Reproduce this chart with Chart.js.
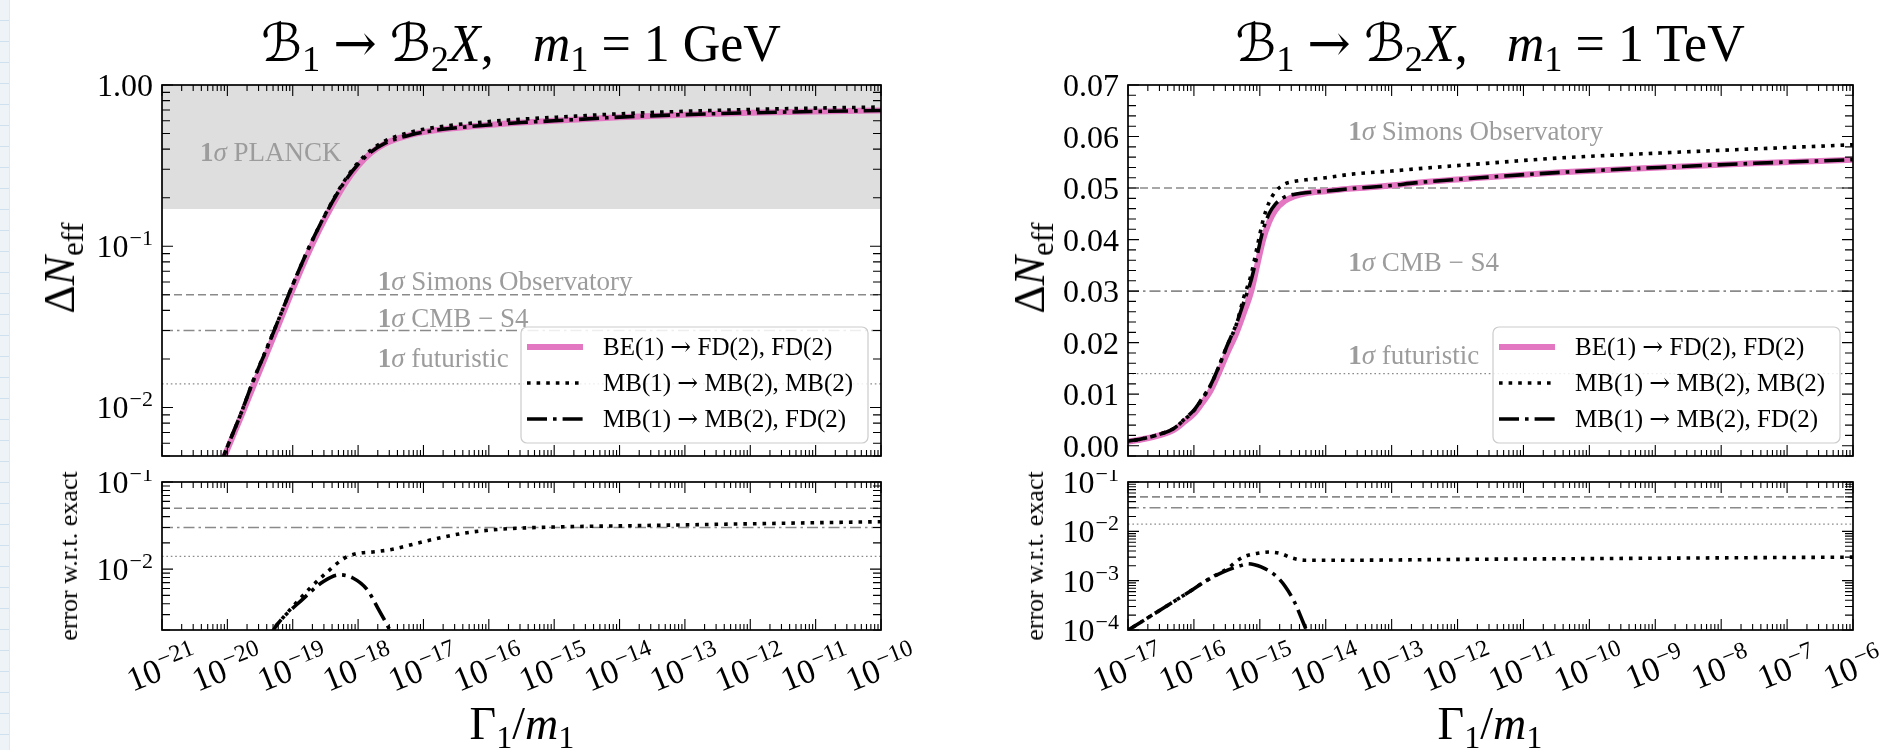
<!DOCTYPE html>
<html lang="en">
<head>
<meta charset="UTF-8" />
<title>Delta N_eff vs Gamma_1/m_1</title>
<script src="https://cdn.jsdelivr.net/npm/chart.js@4.4.1/dist/chart.umd.min.js"></script>
<style>
  body {
    margin: 0;
    width: 1885px;
    height: 750px;
    position: relative;
    overflow: hidden;
    background: #fff;
    font-family: 'Liberation Serif', 'DejaVu Serif', serif;
    color: #000;
  }
  canvas { position: absolute; }
  .strip {
    position: absolute; left: 0; top: 0; width: 9px; height: 750px;
    background: repeating-linear-gradient(#eef3f7 0 20px, #cfe0ef 20px 21px);
    border-right: 1px solid #e2e8ee;
  }
  .lbl { position: absolute; white-space: nowrap; line-height: 1; }
  .title { font-size: 52px; top: 17px; transform: translateX(-50%); }
  .ytitle { font-size: 44px; transform: translate(-50%, -50%) rotate(-90deg); }
  .etitle { font-size: 26px; transform: translate(-50%, -50%) rotate(-90deg); }
  .xtitle { font-size: 46px; transform: translate(-50%, -50%); }
  sub { font-size: 0.7em; vertical-align: -0.28em; line-height: 0; }
  .cal { font-family: 'DejaVu Serif', 'DejaVu Sans', serif; font-style: italic; }
  .arr { font-family: 'DejaVu Serif', serif; }
</style>
</head>
<body>
  <div class="strip"></div>

  <canvas id="gevTop" width="940" height="470" style="left:0;top:0"></canvas>
  <canvas id="gevErr" width="940" height="280" style="left:0;top:470px"></canvas>
  <canvas id="tevTop" width="945" height="470" style="left:940px;top:0"></canvas>
  <canvas id="tevErr" width="945" height="280" style="left:940px;top:470px"></canvas>

  <div class="lbl title" style="left:521px"><span class="cal">ℬ</span><sub>1</sub> <span class="arr">→</span> <span class="cal">ℬ</span><sub>2</sub><i>X</i>,&ensp; <i>m</i><sub>1</sub> = 1 GeV</div>
  <div class="lbl title" style="left:1490px"><span class="cal">ℬ</span><sub>1</sub> <span class="arr">→</span> <span class="cal">ℬ</span><sub>2</sub><i>X</i>,&ensp; <i>m</i><sub>1</sub> = 1 TeV</div>

  <div class="lbl ytitle" style="left:60px;top:268px">Δ<i>N</i><sub>eff</sub></div>
  <div class="lbl ytitle" style="left:1030px;top:268px">Δ<i>N</i><sub>eff</sub></div>
  <div class="lbl etitle" style="left:69px;top:556px">error w.r.t. exact</div>
  <div class="lbl etitle" style="left:1035px;top:556px">error w.r.t. exact</div>
  <div class="lbl xtitle" style="left:522px;top:724px">Γ<sub>1</sub>/<i>m</i><sub>1</sub></div>
  <div class="lbl xtitle" style="left:1490px;top:724px">Γ<sub>1</sub>/<i>m</i><sub>1</sub></div>

  <script>
    // experimental sensitivities (1 sigma)
    const refSimons = 0.05;
    const refS4 = 0.03;
    const refFuture = 0.014;
    const planckLow = 0.17;

    const seriesNames = ['BE(1) → FD(2), FD(2)', 'MB(1) → MB(2), MB(2)', 'MB(1) → MB(2), FD(2)'];

    // m1 = 1 GeV, x given as log10(Gamma1/m1)
    const gevLogX = [-20.15, -20.0, -19.8, -19.6, -19.4, -19.2, -19.0, -18.8, -18.6, -18.4, -18.2, -18.0, -17.8,
      -17.6, -17.4, -17.2, -17.0, -16.6, -16.0, -15.5, -15.0, -14.0, -13.0, -12.0, -11.0, -10.0];
    const gevBE = [0.0039, 0.0055, 0.0086, 0.0136, 0.0215, 0.034, 0.054, 0.084, 0.125, 0.178, 0.245, 0.315, 0.38,
      0.43, 0.465, 0.49, 0.51, 0.537, 0.565, 0.585, 0.60, 0.632, 0.655, 0.672, 0.685, 0.695];
    const gevMBMB = [0.0040, 0.0057, 0.0090, 0.0148, 0.0232, 0.0365, 0.0577, 0.089, 0.132, 0.188, 0.258, 0.330, 0.396,
      0.447, 0.483, 0.510, 0.531, 0.561, 0.593, 0.614, 0.630, 0.663, 0.687, 0.705, 0.719, 0.730];
    const gevMBFD = [0.0040, 0.0057, 0.0090, 0.0148, 0.0230, 0.0365, 0.0577, 0.0889, 0.1316, 0.1863, 0.2533, 0.3223, 0.3847,
      0.4324, 0.465, 0.49, 0.51, 0.537, 0.565, 0.585, 0.60, 0.632, 0.655, 0.672, 0.685, 0.695];

    const gevErrMBMBLogX = [-19.35, -19.24, -18.96, -18.74, -18.47, -18.22, -18.03, -17.75, -17.49, -16.94, -16.39,
      -15.85, -15.02, -13.93, -12.57, -11.3, -10.0];
    const gevErrMBMB = [0.0018, 0.0023, 0.0040, 0.0060, 0.0093, 0.0132, 0.0150, 0.0158, 0.0168, 0.0212, 0.0258,
      0.0286, 0.0304, 0.0314, 0.0326, 0.0338, 0.035];
    const gevErrMBFDLogX = [-19.35, -19.24, -18.85, -18.53, -18.28, -18.08, -17.86, -17.7, -17.53, -17.45];
    const gevErrMBFD = [0.0017, 0.0023, 0.0045, 0.0072, 0.0086, 0.0079, 0.0058, 0.0036, 0.0021, 0.0016];

    // m1 = 1 TeV
    const tevLogX = [-17.05, -16.8, -16.5, -16.3, -16.14, -16.0, -15.89, -15.75, -15.63, -15.5, -15.36, -15.25, -15.13,
      -15.04, -14.95, -14.86, -14.77, -14.62, -14.47, -14.3, -14.0, -13.6, -13.0, -12.65, -11.66, -10.5, -8.93, -7.5, -6.0];
    const tevBE = [0.0007, 0.0012, 0.0021, 0.0031, 0.0047, 0.0062, 0.008, 0.0106, 0.0139, 0.0178, 0.0217, 0.0255, 0.030,
      0.035, 0.040, 0.0434, 0.0456, 0.0475, 0.0484, 0.049, 0.0494, 0.0499, 0.0505, 0.051, 0.052, 0.053, 0.054, 0.0548, 0.0555];
    const tevMBMB = [0.0007, 0.0013, 0.0023, 0.0034, 0.0051, 0.0068, 0.0088, 0.0116, 0.0151, 0.0193, 0.0234, 0.0285, 0.0333,
      0.0386, 0.0438, 0.0472, 0.0492, 0.0508, 0.0513, 0.0516, 0.052, 0.0527, 0.0533, 0.0537, 0.0547, 0.0558, 0.0568, 0.0576, 0.0584];
    const tevMBFD = [0.0008, 0.0013, 0.0023, 0.0034, 0.0052, 0.0069, 0.0089, 0.0117, 0.0151, 0.0193, 0.0235, 0.0276, 0.0322,
      0.037, 0.0419, 0.045, 0.0468, 0.0483, 0.0488, 0.0491, 0.0494, 0.0499, 0.0505, 0.051, 0.052, 0.053, 0.054, 0.0548, 0.0555];

    const tevErrMBMBLogX = [-17.05, -16.54, -16.14, -15.74, -15.48, -15.35, -15.23, -15.03, -14.85, -14.67, -14.52,
      -14.32, -13.6, -12.0, -10.0, -8.0, -6.0];
    const tevErrMBMB = [0.00009, 0.00024, 0.00052, 0.00115, 0.0018, 0.0025, 0.0031, 0.0036, 0.0038, 0.0035, 0.0029,
      0.0026, 0.0026, 0.0027, 0.0028, 0.0029, 0.003];
    const tevErrMBFDLogX = [-17.05, -16.54, -16.14, -15.74, -15.48, -15.3, -15.18, -15.08, -14.98, -14.77, -14.62,
      -14.47, -14.34, -14.28];
    const tevErrMBFD = [0.00009, 0.00024, 0.00052, 0.00113, 0.00165, 0.002, 0.0022, 0.0021, 0.0019, 0.0013, 0.00078,
      0.00036, 0.00014, 0.00009];

    // ticks
    const gevXTicks = [-21, -20, -19, -18, -17, -16, -15, -14, -13, -12, -11, -10];
    const tevXTicks = [-17, -16, -15, -14, -13, -12, -11, -10, -9, -8, -7, -6];
    const gevYTicks = [1, 0.1, 0.01];
    const gevYLabels = ['1.00', '10^−1', '10^−2'];
    const gevErrYTicks = [0.1, 0.01];
    const gevErrYLabels = ['10^−1', '10^−2'];
    const tevYTicks = [0, 0.01, 0.02, 0.03, 0.04, 0.05, 0.06, 0.07];
    const tevYLabels = ['0.00', '0.01', '0.02', '0.03', '0.04', '0.05', '0.06', '0.07'];
    const tevErrYTicks = [0.1, 0.01, 0.001, 0.0001];
    const tevErrYLabels = ['10^−1', '10^−2', '10^−3', '10^−4'];

    const SERIF = '"Liberation Serif", "DejaVu Serif", serif';
    const TICK_FONT = '32px ' + SERIF;
    const EXP_FONT = '22px ' + SERIF;
    const XTICK_FONT = '34px ' + SERIF;
    const XEXP_FONT = '24px ' + SERIF;
    const LEGEND_FONT = '25px ' + SERIF;
    const ARROW_FONT = '25px "DejaVu Serif", serif';
    const NOTE_SIZE = 27;
    const GRAY = '#8a8a8a';
    const NOTE_COLOR = '#9c9c9c';

    const STYLE = {
      be: { borderColor: '#e377c2', borderWidth: 6, borderDash: [] },
      mbmb: { borderColor: '#000', borderWidth: 3.6, borderDash: [3.6, 6] },
      mbfd: { borderColor: '#000', borderWidth: 3.6, borderDash: [20, 6, 3.6, 6] }
    };

    const pts = (lx, ys) => lx.map((e, i) => ({ x: Math.pow(10, e), y: ys[i] }));

    function curve(i, key, lx, ys, order) {
      return Object.assign({
        label: seriesNames[i], inLegend: true, data: pts(lx, ys),
        pointRadius: 0, fill: false, cubicInterpolationMode: 'monotone', order: order, clip: 0
      }, STYLE[key]);
    }

    function refLine(v, dash, w, xr) {
      return {
        data: [{ x: xr[0], y: v }, { x: xr[1], y: v }], borderColor: GRAY, borderWidth: w,
        borderDash: dash, pointRadius: 0, fill: false, order: 5, clip: 0
      };
    }

    function refLines(xr) {
      return [
        refLine(refSimons, [8, 4], 1.6, xr),
        refLine(refS4, [11, 4, 2.5, 4], 1.6, xr),
        refLine(refFuture, [1.6, 2.8], 1.3, xr)
      ];
    }

    function logTicks(scale) {
      const out = [];
      const e0 = Math.floor(Math.log10(scale.min)), e1 = Math.ceil(Math.log10(scale.max));
      for (let e = e0; e <= e1; e++) {
        for (let k = 1; k < 10; k++) {
          const v = k * Math.pow(10, e);
          if (v >= scale.min * 0.9999 && v <= scale.max * 1.0001) out.push({ v: v, major: k === 1 });
        }
      }
      return out;
    }

    function linTicks(scale, o) {
      const out = [];
      const n0 = Math.ceil(scale.min / o.yMinorStep - 1e-6), n1 = Math.floor(scale.max / o.yMinorStep + 1e-6);
      for (let n = n0; n <= n1; n++) {
        const v = n * o.yMinorStep;
        const r = v / o.yMajorStep;
        out.push({ v: v, major: Math.abs(r - Math.round(r)) < 1e-6 });
      }
      return out;
    }

    function drawPow(ctx, txt, x, y, align, ang, bf, ef) {
      const i = txt.indexOf('^');
      const base = i < 0 ? txt : txt.slice(0, i);
      const exp = i < 0 ? '' : txt.slice(i + 1);
      ctx.font = bf;
      const wb = ctx.measureText(base).width;
      ctx.font = ef;
      const we = exp ? ctx.measureText(exp).width + 1 : 0;
      const w = wb + we;
      ctx.save();
      ctx.translate(x, y);
      ctx.rotate(ang);
      ctx.textAlign = 'left';
      ctx.textBaseline = 'alphabetic';
      const x0 = align === 'right' ? -w : -w / 2;
      ctx.font = bf;
      ctx.fillText(base, x0, 11);
      if (exp) {
        ctx.font = ef;
        ctx.fillText(exp, x0 + wb + 1, -1);
      }
      ctx.restore();
    }

    function drawNote(ctx, x, y, text) {
      ctx.fillStyle = NOTE_COLOR;
      ctx.textAlign = 'left';
      ctx.textBaseline = 'alphabetic';
      ctx.font = 'bold ' + NOTE_SIZE + 'px ' + SERIF;
      ctx.fillText('1', x, y);
      let dx = ctx.measureText('1').width;
      ctx.font = 'italic ' + NOTE_SIZE + 'px ' + SERIF;
      ctx.fillText('σ', x + dx, y);
      dx += ctx.measureText('σ').width;
      ctx.font = NOTE_SIZE + 'px ' + SERIF;
      ctx.fillText(' ' + text, x + dx, y);
    }

    // legend text with a larger arrow glyph
    function drawLabel(ctx, text, x, y) {
      let cx = x;
      text.split(/(→)/).forEach(part => {
        ctx.font = part === '→' ? ARROW_FONT : LEGEND_FONT;
        ctx.fillText(part, cx, y);
        cx += ctx.measureText(part).width;
      });
    }

    function roundBox(ctx, x, y, w, h, r) {
      ctx.beginPath();
      ctx.moveTo(x + r, y);
      ctx.lineTo(x + w - r, y);
      ctx.arcTo(x + w, y, x + w, y + r, r);
      ctx.lineTo(x + w, y + h - r);
      ctx.arcTo(x + w, y + h, x + w - r, y + h, r);
      ctx.lineTo(x + r, y + h);
      ctx.arcTo(x, y + h, x, y + h - r, r);
      ctx.lineTo(x, y + r);
      ctx.arcTo(x, y, x + r, y, r);
      ctx.closePath();
    }

    function drawLegend(ctx, chart) {
      const a = chart.chartArea, w = 347, h = 116;
      const x0 = a.right - 13 - w, y0 = a.bottom - 13 - h;
      roundBox(ctx, x0, y0, w, h, 6);
      ctx.fillStyle = 'rgba(255,255,255,0.85)';
      ctx.fill();
      ctx.strokeStyle = '#cccccc';
      ctx.lineWidth = 1.2;
      ctx.setLineDash([]);
      ctx.stroke();
      chart.data.datasets.filter(d => d.inLegend).forEach((d, i) => {
        const cy = y0 + 20 + i * 36;
        ctx.beginPath();
        ctx.strokeStyle = d.borderColor;
        ctx.lineWidth = d.borderWidth;
        ctx.setLineDash(d.borderDash);
        ctx.moveTo(x0 + 6, cy);
        ctx.lineTo(x0 + 62, cy);
        ctx.stroke();
        ctx.setLineDash([]);
        ctx.fillStyle = '#000';
        ctx.textAlign = 'left';
        ctx.textBaseline = 'middle';
        drawLabel(ctx, d.label, x0 + 82, cy + 1);
      });
    }

    // frame, inward ticks on all sides, tick labels, notes and legend
    const framePlugin = {
      id: 'frame',
      afterDraw(chart, args, o) {
        const ctx = chart.ctx, a = chart.chartArea;
        const xs = chart.scales.x, ys = chart.scales.y;
        ctx.save();
        (o.notes || []).forEach(n => drawNote(ctx, xs.getPixelForValue(n.x), ys.getPixelForValue(n.y), n.text));
        if (o.legend) drawLegend(ctx, chart);

        ctx.strokeStyle = '#000';
        ctx.setLineDash([]);
        ctx.lineWidth = 1.1;
        ctx.beginPath();
        logTicks(xs).forEach(t => {
          const p = xs.getPixelForValue(t.v), len = t.major ? 11 : 6;
          ctx.moveTo(p, a.bottom); ctx.lineTo(p, a.bottom - len);
          ctx.moveTo(p, a.top); ctx.lineTo(p, a.top + len);
        });
        const yt = ys.type === 'logarithmic' ? logTicks(ys) : linTicks(ys, o);
        yt.forEach(t => {
          const p = ys.getPixelForValue(t.v), len = t.major ? 11 : 8;
          ctx.moveTo(a.left, p); ctx.lineTo(a.left + len, p);
          ctx.moveTo(a.right, p); ctx.lineTo(a.right - len, p);
        });
        ctx.stroke();
        ctx.lineWidth = 1.7;
        ctx.strokeRect(a.left, a.top, a.right - a.left, a.bottom - a.top);

        ctx.fillStyle = '#000';
        o.yTicks.forEach((v, i) => drawPow(ctx, o.yLabels[i], a.left - 9, ys.getPixelForValue(v), 'right', 0,
          TICK_FONT, EXP_FONT));
        if (o.xLabels) {
          o.xTicks.forEach(e => drawPow(ctx, '10^−' + Math.abs(e), xs.getPixelForValue(Math.pow(10, e)),
            a.bottom + 38, 'center', -22 * Math.PI / 180, XTICK_FONT, XEXP_FONT));
        }
        ctx.restore();
      }
    };

    function makeChart(id, pad, xr, yScale, datasets, frame) {
      return new Chart(document.getElementById(id), {
        type: 'line',
        data: { datasets: datasets },
        options: {
          responsive: false,
          animation: false,
          events: [],
          layout: { padding: pad },
          scales: {
            x: { type: 'logarithmic', min: xr[0], max: xr[1], display: false },
            y: Object.assign({ display: false }, yScale)
          },
          plugins: { legend: { display: false }, tooltip: { enabled: false }, frame: frame }
        },
        plugins: [framePlugin]
      });
    }

    const gevRange = [1e-21, 1e-10];
    const tevRange = [1e-17, 1e-6];

    makeChart('gevTop', { left: 162, top: 85, right: 59, bottom: 14 }, gevRange,
      { type: 'logarithmic', min: 0.005, max: 1 },
      [
        {
          data: [{ x: gevRange[0], y: 1 }, { x: gevRange[1], y: 1 }], fill: { value: planckLow },
          backgroundColor: '#dedede', borderColor: 'rgba(0,0,0,0)', borderWidth: 0, pointRadius: 0, order: 10
        },
        ...refLines(gevRange),
        curve(0, 'be', gevLogX, gevBE, 3),
        curve(1, 'mbmb', gevLogX, gevMBMB, 2),
        curve(2, 'mbfd', gevLogX, gevMBFD, 1)
      ],
      {
        yTicks: gevYTicks, yLabels: gevYLabels, xTicks: gevXTicks, xLabels: false, legend: true,
        notes: [
          { x: Math.pow(10, -20.42), y: 0.34, text: 'PLANCK' },
          { x: Math.pow(10, -17.7), y: 0.0532, text: 'Simons Observatory' },
          { x: Math.pow(10, -17.7), y: 0.0316, text: 'CMB − S4' },
          { x: Math.pow(10, -17.7), y: 0.0178, text: 'futuristic' }
        ]
      });

    makeChart('gevErr', { left: 162, top: 12, right: 59, bottom: 120 }, gevRange,
      { type: 'logarithmic', min: 0.002, max: 0.1 },
      [
        ...refLines(gevRange),
        curve(1, 'mbmb', gevErrMBMBLogX, gevErrMBMB, 2),
        curve(2, 'mbfd', gevErrMBFDLogX, gevErrMBFD, 1)
      ],
      { yTicks: gevErrYTicks, yLabels: gevErrYLabels, xTicks: gevXTicks, xLabels: true });

    makeChart('tevTop', { left: 188, top: 85, right: 32, bottom: 14 }, tevRange,
      { type: 'linear', min: -0.002, max: 0.07 },
      [
        ...refLines(tevRange),
        curve(0, 'be', tevLogX, tevBE, 3),
        curve(1, 'mbmb', tevLogX, tevMBMB, 2),
        curve(2, 'mbfd', tevLogX, tevMBFD, 1)
      ],
      {
        yTicks: tevYTicks, yLabels: tevYLabels, yMajorStep: 0.01, yMinorStep: 0.002,
        xTicks: tevXTicks, xLabels: false, legend: true,
        notes: [
          { x: Math.pow(10, -13.66), y: 0.0593, text: 'Simons Observatory' },
          { x: Math.pow(10, -13.66), y: 0.0339, text: 'CMB − S4' },
          { x: Math.pow(10, -13.66), y: 0.0159, text: 'futuristic' }
        ]
      });

    makeChart('tevErr', { left: 188, top: 12, right: 32, bottom: 120 }, tevRange,
      { type: 'logarithmic', min: 0.0001, max: 0.1 },
      [
        ...refLines(tevRange),
        curve(1, 'mbmb', tevErrMBMBLogX, tevErrMBMB, 2),
        curve(2, 'mbfd', tevErrMBFDLogX, tevErrMBFD, 1)
      ],
      { yTicks: tevErrYTicks, yLabels: tevErrYLabels, xTicks: tevXTicks, xLabels: true });
  </script>
</body>
</html>
